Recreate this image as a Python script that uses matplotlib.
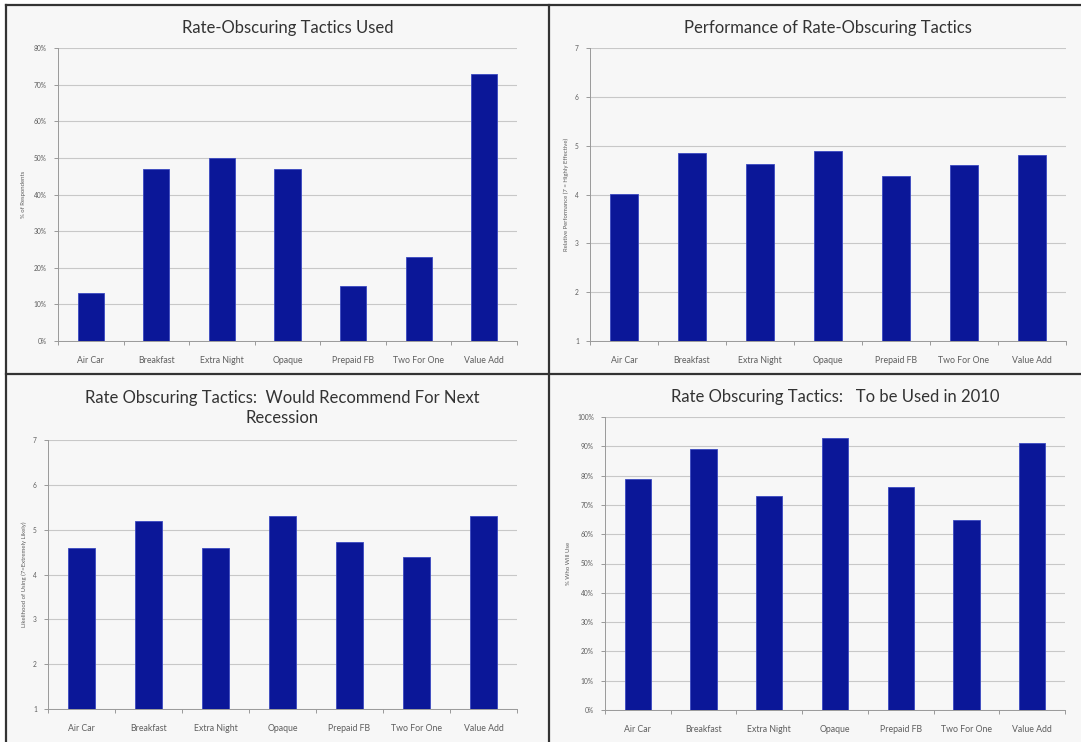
import matplotlib.pyplot as plt
import matplotlib as mpl
from matplotlib.lines import Line2D
import numpy as np

mpl.rcParams['font.family'] = ['Lato', 'DejaVu Sans']

tactics = ['Air Car', 'Breakfast', 'Extra Night', 'Opaque', 'Prepaid FB', 'Two For One', 'Value Add']

used_pct = [13, 47, 50, 47, 15, 23, 73]
performance = [4.02, 4.85, 4.63, 4.89, 4.38, 4.61, 4.80]
recommend = [4.59, 5.20, 4.60, 5.30, 4.72, 4.39, 5.31]
use_2010_pct = [79, 89, 73, 93, 76, 65, 91]

pct_ticks_80 = [0, 10, 20, 30, 40, 50, 60, 70, 80]
pct_ticks_100 = [0, 10, 20, 30, 40, 50, 60, 70, 80, 90, 100]
score_ticks = [1, 2, 3, 4, 5, 6, 7]

BAR = '#0b1798'
EDGE = '#3a48c0'
GRID = '#c8c8c8'
TXT = '#333333'
TICK = '#5e5e5e'
PANEL_BG = '#f7f7f7'

W, H = 1081, 742
fig = plt.figure(figsize=(W / 100, H / 100), dpi=100)
fig.patch.set_facecolor('white')

# light panel background inside the frame
fig.patches.append(mpl.patches.Rectangle((6 / W, 0), 1, 1 - 5 / H, transform=fig.transFigure,
                                         facecolor=PANEL_BG, edgecolor='none', zorder=-5))


def px_rect(left, right, top, bottom):
    return [left / W, 1 - bottom / H, (right - left) / W, (bottom - top) / H]


def draw_panel(rect, values, ticks, tick_labels, ylabel, title, title_y, ylabel_x):
    ax = fig.add_axes(rect)
    ax.set_facecolor('none')
    x = np.arange(len(tactics))
    base = ticks[0]
    ax.bar(x, np.array(values) - base, bottom=base, width=0.4, color=BAR,
           edgecolor=EDGE, linewidth=0.6, zorder=3)
    ax.set_xlim(-0.5, len(tactics) - 0.5)
    ax.set_ylim(ticks[0], ticks[-1])
    ax.set_yticks(ticks)
    ax.set_yticklabels(tick_labels, fontsize=4.8, color=TICK)
    ax.yaxis.grid(True, color=GRID, linewidth=0.8, zorder=0)
    ax.set_xticks(x)
    ax.set_xticklabels(tactics, fontsize=6.3, color=TICK)
    ax.set_xticks(np.arange(len(tactics) + 1) - 0.5, minor=True)
    ax.tick_params(axis='x', which='major', length=0, pad=11)
    ax.tick_params(axis='x', which='minor', length=3, color='#9a9a9a', width=0.7)
    ax.tick_params(axis='y', length=3, color='#9a9a9a', width=0.7, pad=5)
    for s in ['top', 'right']:
        ax.spines[s].set_visible(False)
    ax.spines['left'].set_color('#9a9a9a')
    ax.spines['bottom'].set_color('#9a9a9a')
    ax.spines['left'].set_linewidth(0.7)
    ax.spines['bottom'].set_linewidth(0.7)
    fig.text(ylabel_x / W, rect[1] + rect[3] / 2, ylabel, rotation=90, fontsize=4.3,
             color=TICK, ha='center', va='center')
    cx = rect[0] + rect[2] / 2
    fig.text(cx, 1 - title_y / H, title, fontsize=12, color=TXT, ha='center', va='center',
             linespacing=1.3)
    return ax


draw_panel(px_rect(58, 517, 48, 341), used_pct, pct_ticks_80,
           [str(t) + '%' for t in pct_ticks_80], '% of Respondents',
           'Rate-Obscuring Tactics Used', 28, 24)
draw_panel(px_rect(590, 1066, 48, 341), performance, score_ticks,
           [str(t) for t in score_ticks], 'Relative Performance (7 = Highly Effective)',
           'Performance of Rate-Obscuring Tactics', 28, 566)
draw_panel(px_rect(48, 517, 440, 709), recommend, score_ticks,
           [str(t) for t in score_ticks], 'Likelihood of Using (7=Extremely Likely)',
           'Rate Obscuring Tactics:  Would Recommend For Next\nRecession', 408, 24)
draw_panel(px_rect(605, 1065, 417, 710), use_2010_pct, pct_ticks_100,
           [str(t) + '%' for t in pct_ticks_100], '% Who Will Use',
           'Rate Obscuring Tactics:   To be Used in 2010', 397, 568)

# frame and dividers between the four charts
frame = dict(color='#333333', linewidth=1.6, transform=fig.transFigure)
fig.add_artist(Line2D([6 / W, 1], [1 - 5 / H, 1 - 5 / H], **frame))
fig.add_artist(Line2D([6 / W, 6 / W], [0, 1 - 5 / H], **frame))
fig.add_artist(Line2D([549 / W, 549 / W], [0, 1 - 5 / H], **frame))
fig.add_artist(Line2D([6 / W, 1], [1 - 374 / H, 1 - 374 / H], **frame))

fig.savefig('out.png', dpi=100)
